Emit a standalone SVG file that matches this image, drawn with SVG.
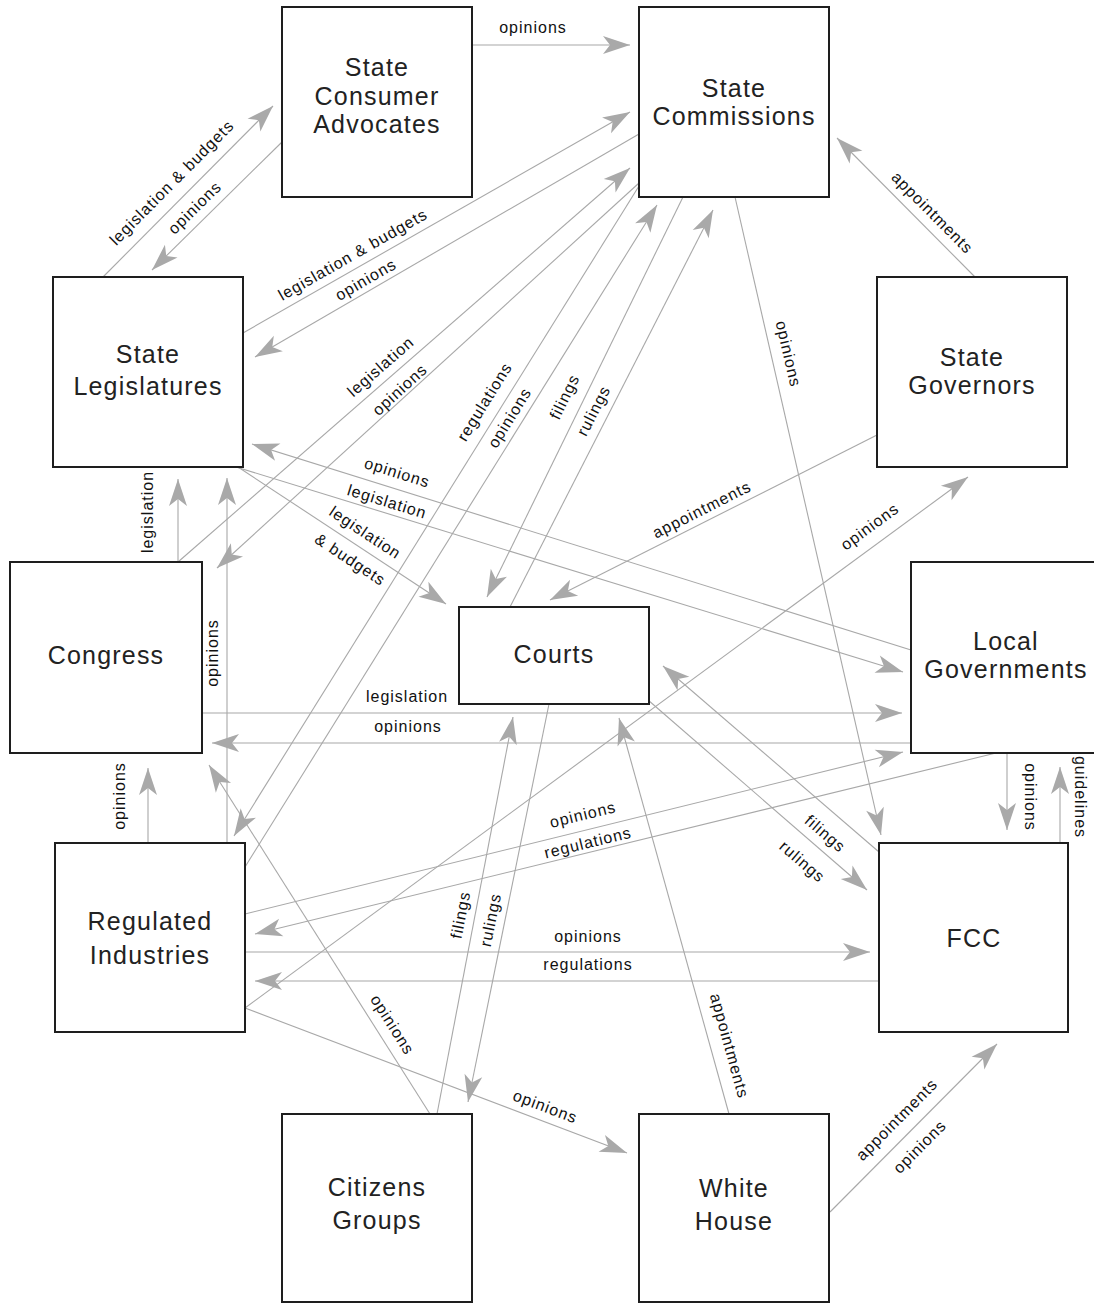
<svg xmlns="http://www.w3.org/2000/svg" width="1094" height="1304" viewBox="0 0 1094 1304">
<defs>
<marker id="ah" viewBox="-30 -12 32 24" refX="0" refY="0" markerWidth="32" markerHeight="24" markerUnits="userSpaceOnUse" orient="auto">
<path d="M0,0 L-27,-9 L-20,0 L-27,9 Z" fill="#a9a9a9"/>
</marker>
<style>
.box{fill:#fff;stroke:#1e1e1e;stroke-width:2}
.nt{font-family:"Liberation Sans",Arial,sans-serif;font-size:25px;letter-spacing:1.2px;fill:#222;text-anchor:middle}
.c{stroke:#a8a8a8;stroke-width:1.1;fill:none;marker-end:url(#ah)}
.lb{font-family:"Liberation Sans",Arial,sans-serif;font-size:16px;letter-spacing:1px;fill:#111;text-anchor:middle}
</style>
</defs>
<rect width="1094" height="1304" fill="#fff"/>
<g id="connectors">
<g id="e1"><line class="c" x1="103" y1="277" x2="273" y2="106"/><text class="lb" transform="translate(172,183) rotate(-45.2)" y="5">legislation &amp; budgets</text></g>
<g id="e2"><line class="c" x1="282" y1="142" x2="152" y2="270"/><text class="lb" transform="translate(195,208) rotate(-44.6)" y="5">opinions</text></g>
<g id="e3"><line class="c" x1="472" y1="45" x2="630" y2="45"/><text class="lb" transform="translate(533,28)" y="5">opinions</text></g>
<g id="e4"><line class="c" x1="243" y1="333" x2="630" y2="112"/><text class="lb" transform="translate(353,255) rotate(-29.7)" y="5">legislation &amp; budgets</text></g>
<g id="e5"><line class="c" x1="639" y1="134" x2="255" y2="357"/><text class="lb" transform="translate(366,280) rotate(-30.1)" y="5">opinions</text></g>
<g id="e6"><line class="c" x1="178" y1="562" x2="630" y2="168"/><text class="lb" transform="translate(381,367) rotate(-41.1)" y="5">legislation</text></g>
<g id="e7"><line class="c" x1="639" y1="183" x2="217" y2="568"/><text class="lb" transform="translate(400,390) rotate(-42.4)" y="5">opinions</text></g>
<g id="e8"><line class="c" x1="245" y1="867" x2="657" y2="205"/><text class="lb" transform="translate(510,418) rotate(-58.1)" y="5">opinions</text></g>
<g id="e9"><line class="c" x1="639" y1="186" x2="234" y2="836"/><text class="lb" transform="translate(485,402) rotate(-58.1)" y="5">regulations</text></g>
<g id="e10"><line class="c" x1="683" y1="197" x2="487" y2="597"/><text class="lb" transform="translate(565,397) rotate(-63.9)" y="5">filings</text></g>
<g id="e11"><line class="c" x1="510" y1="607" x2="713" y2="210"/><text class="lb" transform="translate(594,411) rotate(-62.9)" y="5">rulings</text></g>
<g id="e12"><line class="c" x1="975" y1="277" x2="837" y2="138"/><text class="lb" transform="translate(932,213) rotate(45.2)" y="5">appointments</text></g>
<g id="e13"><line class="c" x1="178" y1="562" x2="178" y2="479"/><text class="lb" transform="translate(148,512) rotate(-90)" y="5">legislation</text></g>
<g id="e14"><line class="c" x1="227" y1="843" x2="227" y2="478"/><text class="lb" transform="translate(213,653) rotate(-90)" y="5">opinions</text></g>
<g id="e15"><line class="c" x1="148" y1="843" x2="148" y2="768"/><text class="lb" transform="translate(120,796) rotate(-90)" y="5">opinions</text></g>
<g id="e16"><line class="c" x1="202" y1="713" x2="902" y2="713"/><text class="lb" transform="translate(407,697)" y="5">legislation</text></g>
<g id="e17"><line class="c" x1="911" y1="743" x2="212" y2="743"/><text class="lb" transform="translate(408,727)" y="5">opinions</text></g>
<g id="e18"><line class="c" x1="245" y1="952" x2="870" y2="952"/><text class="lb" transform="translate(588,937)" y="5">opinions</text></g>
<g id="e19"><line class="c" x1="879" y1="981" x2="255" y2="981"/><text class="lb" transform="translate(588,965)" y="5">regulations</text></g>
<g id="e20"><line class="c" x1="245" y1="914" x2="903" y2="752"/><text class="lb" transform="translate(583,815) rotate(-13.8)" y="5">opinions</text></g>
<g id="e21"><line class="c" x1="996" y1="753" x2="255" y2="934"/><text class="lb" transform="translate(588,843) rotate(-13.7)" y="5">regulations</text></g>
<g id="e22"><line class="c" x1="236" y1="467" x2="903" y2="672"/><text class="lb" transform="translate(387,502) rotate(17.1)" y="5">legislation</text></g>
<g id="e23"><line class="c" x1="911" y1="650" x2="252" y2="444"/><text class="lb" transform="translate(397,473) rotate(17.4)" y="5">opinions</text></g>
<g id="e24"><line class="c" x1="238" y1="467" x2="446" y2="604"/><text class="lb" transform="translate(365,533) rotate(33.4)" y="5">legislation</text><text class="lb" transform="translate(350,560) rotate(33.4)" y="5">&amp; budgets</text></g>
<g id="e25"><line class="c" x1="877" y1="435" x2="550" y2="600"/><text class="lb" transform="translate(702,510) rotate(-26.8)" y="5">appointments</text></g>
<g id="e26"><line class="c" x1="245" y1="1008" x2="968" y2="477"/><text class="lb" transform="translate(870,527) rotate(-36.3)" y="5">opinions</text></g>
<g id="e27"><line class="c" x1="245" y1="1008" x2="627" y2="1153"/><text class="lb" transform="translate(545,1107) rotate(20.8)" y="5">opinions</text></g>
<g id="e28"><line class="c" x1="430" y1="1114" x2="209" y2="765"/><text class="lb" transform="translate(392,1025) rotate(57.6)" y="5">opinions</text></g>
<g id="e29"><line class="c" x1="437" y1="1114" x2="513" y2="717"/><text class="lb" transform="translate(461,915) rotate(-79)" y="5">filings</text></g>
<g id="e30"><line class="c" x1="549" y1="704" x2="468" y2="1102"/><text class="lb" transform="translate(491,920) rotate(-78.5)" y="5">rulings</text></g>
<g id="e31"><line class="c" x1="729" y1="1114" x2="619" y2="718"/><text class="lb" transform="translate(729,1046) rotate(74.5)" y="5">appointments</text></g>
<g id="e32"><line class="c" x1="830" y1="1212" x2="997" y2="1044"/><text class="lb" transform="translate(897,1120) rotate(-45.2)" y="5">appointments</text><text class="lb" transform="translate(920,1147) rotate(-45.2)" y="5">opinions</text></g>
<g id="e33"><line class="c" x1="735" y1="197" x2="881" y2="835"/><text class="lb" transform="translate(788,354) rotate(77.1)" y="5">opinions</text></g>
<g id="e34"><line class="c" x1="1007" y1="753" x2="1007" y2="830"/><text class="lb" transform="translate(1030,797) rotate(90)" y="5">opinions</text></g>
<g id="e35"><line class="c" x1="1060" y1="843" x2="1060" y2="767"/><text class="lb" transform="translate(1080,797) rotate(90)" y="5">guidelines</text></g>
<g id="e36"><line class="c" x1="879" y1="852" x2="663" y2="666"/><text class="lb" transform="translate(825,834) rotate(40.7)" y="5">filings</text></g>
<g id="e37"><line class="c" x1="648" y1="700" x2="867" y2="890"/><text class="lb" transform="translate(802,862) rotate(40.9)" y="5">rulings</text></g>
</g>
<g id="state-consumer-advocates"><rect class="box" x="282" y="7" width="190" height="190"/><text class="nt" x="377" y="76">State</text><text class="nt" x="377" y="105">Consumer</text><text class="nt" x="377" y="133">Advocates</text></g>
<g id="state-commissions"><rect class="box" x="639" y="7" width="190" height="190"/><text class="nt" x="734" y="97">State</text><text class="nt" x="734" y="125">Commissions</text></g>
<g id="state-legislatures"><rect class="box" x="53" y="277" width="190" height="190"/><text class="nt" x="148" y="363">State</text><text class="nt" x="148" y="395">Legislatures</text></g>
<g id="state-governors"><rect class="box" x="877" y="277" width="190" height="190"/><text class="nt" x="972" y="366">State</text><text class="nt" x="972" y="394">Governors</text></g>
<g id="congress"><rect class="box" x="10" y="562" width="192" height="191"/><text class="nt" x="106" y="664">Congress</text></g>
<g id="courts"><rect class="box" x="459" y="607" width="190" height="97"/><text class="nt" x="554" y="663">Courts</text></g>
<g id="local-governments"><rect class="box" x="911" y="562" width="192" height="191"/><text class="nt" x="1006" y="650">Local</text><text class="nt" x="1006" y="678">Governments</text></g>
<g id="regulated-industries"><rect class="box" x="55" y="843" width="190" height="189"/><text class="nt" x="150" y="930">Regulated</text><text class="nt" x="150" y="964">Industries</text></g>
<g id="fcc"><rect class="box" x="879" y="843" width="189" height="189"/><text class="nt" x="974" y="947">FCC</text></g>
<g id="citizens-groups"><rect class="box" x="282" y="1114" width="190" height="188"/><text class="nt" x="377" y="1196">Citizens</text><text class="nt" x="377" y="1229">Groups</text></g>
<g id="white-house"><rect class="box" x="639" y="1114" width="190" height="188"/><text class="nt" x="734" y="1197">White</text><text class="nt" x="734" y="1230">House</text></g>
</svg>
